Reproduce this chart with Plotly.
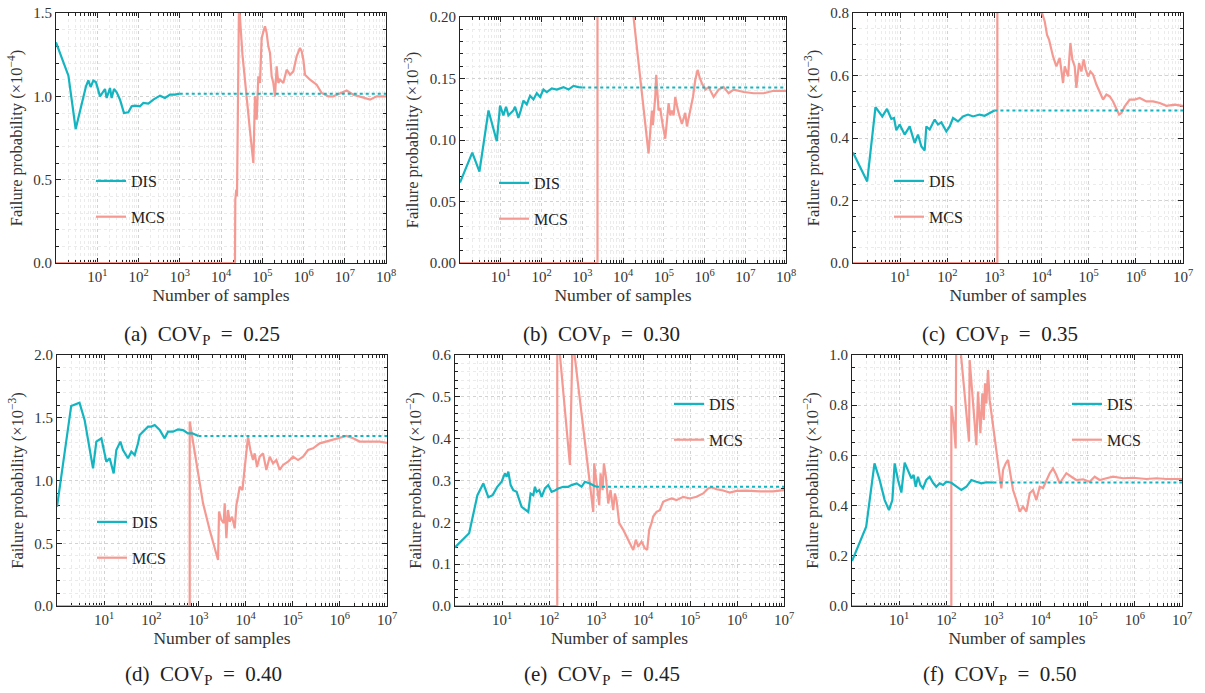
import plotly.graph_objects as go

# ---------------- data (log10 of number of samples, failure probability in scaled units) ----------------
# (a) COV_P = 0.25, units 1e-4
dis_a_logn = [0.000, 0.301, 0.477, 0.727, 0.784, 0.840, 0.905, 0.970, 1.067, 1.188, 1.228, 1.309, 1.349, 1.406,
              1.471, 1.552, 1.648, 1.754, 1.834, 1.915, 2.036, 2.117, 2.238, 2.360, 2.521, 2.642, 2.764, 2.885, 3.000]
dis_a_p = [1.324, 1.124, 0.804, 1.06, 1.096, 1.056, 1.094, 1.084, 1.00, 1.044, 0.99, 1.05, 0.99, 1.044,
           1.024, 0.98, 0.90, 0.904, 0.94, 0.944, 0.94, 0.96, 0.956, 0.98, 1.004, 0.99, 1.01, 1.01, 1.016]
mcs_a_logn = [0.000, 4.339, 4.347, 4.371, 4.388, 4.404, 4.420, 4.436, 4.52, 4.61, 4.70, 4.784, 4.824, 4.865, 4.905,
              4.945, 4.986, 5.042, 5.067, 5.107, 5.147, 5.188, 5.228, 5.269, 5.309, 5.349, 5.390, 5.430, 5.511,
              5.592, 5.673, 5.754, 5.834, 5.915, 5.956, 5.996, 6.036, 6.158, 6.319, 6.440, 6.602, 6.723, 6.885,
              7.046, 7.208, 7.450, 7.612, 7.774, 8.000]
mcs_a_p = [0.0, 0.0, 0.38, 0.44, 0.40, 0.78, 1.38, 1.56, 1.25, 1.0, 0.80, 0.60, 1.0, 0.86, 1.12,
           1.08, 1.35, 1.40, 1.42, 1.38, 1.30, 1.26, 1.12, 1.08, 1.00, 1.18, 1.08, 1.10, 1.08,
           1.16, 1.13, 1.15, 1.24, 1.29, 1.27, 1.22, 1.13, 1.10, 1.07, 1.02, 1.00, 1.00, 1.02,
           1.035, 1.01, 0.99, 0.98, 1.0, 1.0]

# (b) COV_P = 0.30, units 1e-3
dis_b_logn = [0.000, 0.301, 0.477, 0.699, 0.903, 0.983, 1.065, 1.130, 1.188, 1.310, 1.351, 1.433, 1.491, 1.556,
              1.638, 1.720, 1.802, 1.884, 1.966, 2.048, 2.129, 2.252, 2.375, 2.539, 2.662, 2.785, 2.907, 3.000]
dis_b_p = [0.0654, 0.0897, 0.0743, 0.124, 0.099, 0.128, 0.120, 0.127, 0.120, 0.124, 0.127, 0.118, 0.124, 0.132,
           0.129, 0.136, 0.133, 0.138, 0.135, 0.141, 0.139, 0.142, 0.141, 0.143, 0.141, 0.144, 0.143, 0.1427]
mcs_b_logn = [0.000, 3.374, 3.374, 4.259, 4.627, 4.668, 4.709, 4.734, 4.767, 4.791, 4.816, 4.848, 4.873, 4.914,
              4.955, 5.037, 5.078, 5.119, 5.160, 5.201, 5.242, 5.283, 5.324, 5.364, 5.446, 5.487, 5.528, 5.569,
              5.610, 5.651, 5.717, 5.774, 5.831, 5.880, 5.938, 6.020, 6.102, 6.224, 6.347, 6.470, 6.593, 6.716,
              6.962, 7.207, 7.453, 7.699, 8.000]
mcs_b_p = [0.0, 0.0, 0.43, 0.200, 0.089, 0.111, 0.124, 0.112, 0.125, 0.135, 0.153, 0.140, 0.124, 0.126,
           0.116, 0.101, 0.115, 0.130, 0.120, 0.124, 0.120, 0.135, 0.128, 0.122, 0.113, 0.118, 0.122, 0.111,
           0.118, 0.124, 0.135, 0.149, 0.157, 0.151, 0.146, 0.141, 0.143, 0.135, 0.141, 0.143, 0.138, 0.141,
           0.139, 0.138, 0.138, 0.140, 0.140]

# (c) COV_P = 0.35, units 1e-3
dis_c_logn = [0.000, 0.301, 0.477, 0.622, 0.721, 0.813, 0.870, 0.919, 0.990, 1.096, 1.202, 1.308, 1.379, 1.450,
              1.520, 1.556, 1.627, 1.733, 1.803, 1.874, 1.980, 2.051, 2.122, 2.228, 2.334, 2.440, 2.546, 2.687,
              2.793, 2.900, 3.000]
dis_c_p = [0.354, 0.261, 0.499, 0.469, 0.493, 0.461, 0.464, 0.425, 0.443, 0.411, 0.437, 0.384, 0.411, 0.373,
           0.360, 0.437, 0.427, 0.459, 0.443, 0.450, 0.421, 0.437, 0.464, 0.453, 0.469, 0.475, 0.469, 0.475,
           0.471, 0.480, 0.488]
mcs_c_logn = [0.000, 3.062, 3.062, 4.010, 4.067, 4.116, 4.158, 4.187, 4.243, 4.314, 4.385, 4.455, 4.491, 4.562,
              4.611, 4.653, 4.703, 4.738, 4.795, 4.844, 4.894, 4.936, 4.986, 5.035, 5.092, 5.163, 5.233, 5.304,
              5.375, 5.446, 5.516, 5.587, 5.644, 5.693, 5.764, 5.870, 5.976, 6.082, 6.223, 6.365, 6.506, 6.648,
              6.825, 7.000]
mcs_c_p = [0.0, 0.0, 0.87, 0.80, 0.773, 0.730, 0.715, 0.693, 0.661, 0.629, 0.656, 0.576, 0.629, 0.597,
           0.704, 0.651, 0.629, 0.560, 0.640, 0.613, 0.651, 0.619, 0.597, 0.613, 0.603, 0.571, 0.544, 0.523,
           0.539, 0.533, 0.517, 0.491, 0.475, 0.480, 0.501, 0.523, 0.523, 0.528, 0.517, 0.517, 0.512, 0.503,
           0.507, 0.503]

# (d) COV_P = 0.40, units 1e-3
dis_d_logn = [0.000, 0.301, 0.477, 0.587, 0.764, 0.835, 0.941, 1.047, 1.117, 1.202, 1.259, 1.344, 1.400, 1.506,
              1.577, 1.648, 1.719, 1.754, 1.860, 1.931, 2.001, 2.072, 2.178, 2.284, 2.355, 2.461, 2.567, 2.673,
              2.779, 2.871, 3.000]
dis_d_p = [0.790, 1.594, 1.620, 1.480, 1.097, 1.310, 1.336, 1.150, 1.177, 1.057, 1.243, 1.310, 1.243, 1.177,
           1.230, 1.203, 1.296, 1.362, 1.402, 1.429, 1.430, 1.442, 1.402, 1.336, 1.389, 1.389, 1.408, 1.402,
           1.376, 1.376, 1.355]
mcs_d_logn = [0.000, 2.815, 2.815, 2.956, 3.098, 3.239, 3.416, 3.437, 3.487, 3.536, 3.557, 3.593, 3.628, 3.663,
              3.713, 3.770, 3.805, 3.840, 3.876, 3.932, 3.982, 4.017, 4.052, 4.102, 4.158, 4.194, 4.243, 4.300,
              4.371, 4.441, 4.512, 4.583, 4.653, 4.724, 4.795, 4.901, 5.007, 5.113, 5.219, 5.325, 5.431, 5.573,
              5.714, 5.856, 5.997, 6.139, 6.280, 6.421, 6.634, 6.846, 7.000]
mcs_d_p = [0.0, 0.0, 1.47, 1.137, 0.818, 0.606, 0.367, 0.752, 0.685, 0.660, 0.818, 0.540, 0.765, 0.672,
           0.712, 0.619, 0.805, 0.871, 0.951, 0.924, 1.084, 1.190, 1.349, 1.243, 1.163, 1.216, 1.110, 1.190,
           1.216, 1.084, 1.190, 1.137, 1.163, 1.084, 1.124, 1.150, 1.190, 1.163, 1.190, 1.243, 1.256, 1.296,
           1.310, 1.323, 1.336, 1.355, 1.336, 1.310, 1.310, 1.310, 1.300]

# (e) COV_P = 0.45, units 1e-2
dis_e_logn = [0.000, 0.301, 0.477, 0.602, 0.709, 0.801, 0.900, 0.992, 1.063, 1.099, 1.134, 1.184, 1.240, 1.311,
              1.417, 1.510, 1.559, 1.609, 1.666, 1.701, 1.736, 1.793, 1.843, 1.914, 1.984, 2.055, 2.126, 2.197,
              2.303, 2.410, 2.480, 2.587, 2.693, 2.764, 2.870, 3.000]
dis_e_p = [0.140, 0.174, 0.265, 0.293, 0.260, 0.265, 0.285, 0.297, 0.317, 0.309, 0.321, 0.289, 0.277, 0.273,
           0.237, 0.229, 0.225, 0.269, 0.265, 0.285, 0.273, 0.277, 0.261, 0.281, 0.289, 0.273, 0.276, 0.281,
           0.285, 0.285, 0.289, 0.293, 0.285, 0.297, 0.293, 0.285]
mcs_e_logn = [0.000, 2.176, 2.176, 2.445, 2.502, 2.941, 2.962, 3.012, 3.069, 3.097, 3.140, 3.168, 3.211, 3.260,
              3.310, 3.366, 3.402, 3.437, 3.494, 3.579, 3.650, 3.721, 3.792, 3.848, 3.898, 3.969, 4.040, 4.089,
              4.132, 4.181, 4.217, 4.288, 4.359, 4.429, 4.500, 4.607, 4.713, 4.855, 4.996, 5.138, 5.280, 5.386,
              5.457, 5.563, 5.705, 5.847, 5.989, 6.201, 6.485, 6.768, 7.000]
mcs_e_p = [0.0, 0.0, 0.67, 0.337, 0.64, 0.225, 0.341, 0.293, 0.241, 0.317, 0.277, 0.341, 0.309, 0.245,
           0.277, 0.229, 0.269, 0.253, 0.198, 0.182, 0.166, 0.154, 0.134, 0.158, 0.142, 0.154, 0.138, 0.134,
           0.182, 0.198, 0.214, 0.225, 0.229, 0.249, 0.253, 0.257, 0.253, 0.261, 0.257, 0.261, 0.269, 0.281,
           0.284, 0.279, 0.276, 0.271, 0.275, 0.276, 0.274, 0.274, 0.277]

# (f) COV_P = 0.50, units 1e-2
dis_f_logn = [0.000, 0.301, 0.477, 0.587, 0.693, 0.785, 0.856, 0.905, 0.976, 1.047, 1.117, 1.188, 1.259, 1.308,
              1.351, 1.400, 1.450, 1.506, 1.577, 1.648, 1.719, 1.789, 1.860, 1.931, 2.001, 2.107, 2.214, 2.320,
              2.426, 2.532, 2.638, 2.744, 2.850, 3.000]
dis_f_p = [0.179, 0.316, 0.568, 0.502, 0.422, 0.382, 0.422, 0.568, 0.502, 0.452, 0.571, 0.542, 0.509, 0.522,
           0.475, 0.515, 0.482, 0.469, 0.502, 0.515, 0.491, 0.475, 0.489, 0.482, 0.495, 0.491, 0.475, 0.462,
           0.475, 0.502, 0.495, 0.489, 0.493, 0.492]
mcs_f_logn = [0.000, 2.107, 2.107, 2.157, 2.199, 2.214, 2.482, 2.496, 2.638, 2.673, 2.723, 2.765, 2.794, 2.822,
              2.850, 2.885, 2.921, 3.168, 3.204, 3.260, 3.310, 3.345, 3.416, 3.487, 3.557, 3.628, 3.699, 3.770,
              3.840, 3.911, 3.982, 4.052, 4.123, 4.194, 4.264, 4.335, 4.406, 4.477, 4.547, 4.653, 4.760, 4.901,
              5.042, 5.148, 5.255, 5.396, 5.537, 5.750, 5.962, 6.245, 6.457, 6.669, 7.000]
mcs_f_p = [0.0, 0.0, 0.797, 0.728, 0.628, 1.20, 0.655, 0.98, 0.641, 0.854, 0.688, 0.847, 0.741, 0.887,
           0.807, 0.940, 0.820, 0.469, 0.542, 0.568, 0.582, 0.542, 0.462, 0.422, 0.376, 0.396, 0.376, 0.449,
           0.462, 0.422, 0.475, 0.470, 0.502, 0.529, 0.548, 0.522, 0.489, 0.509, 0.529, 0.515, 0.502, 0.505,
           0.495, 0.515, 0.502, 0.509, 0.515, 0.509, 0.511, 0.506, 0.509, 0.506, 0.506]

panels = [
    ("a", "0.25", "−4", 8, 1.5, 0.5, 0.1, ".1f", dis_a_logn, dis_a_p, mcs_a_logn, mcs_a_p),
    ("b", "0.30", "−3", 8, 0.20, 0.05, 0.01, ".2f", dis_b_logn, dis_b_p, mcs_b_logn, mcs_b_p),
    ("c", "0.35", "−3", 7, 0.8, 0.2, 0.05, ".1f", dis_c_logn, dis_c_p, mcs_c_logn, mcs_c_p),
    ("d", "0.40", "−3", 7, 2.0, 0.5, 0.1, ".1f", dis_d_logn, dis_d_p, mcs_d_logn, mcs_d_p),
    ("e", "0.45", "−2", 7, 0.6, 0.1, 0.02, ".1f", dis_e_logn, dis_e_p, mcs_e_logn, mcs_e_p),
    ("f", "0.50", "−2", 7, 1.0, 0.2, 0.05, ".1f", dis_f_logn, dis_f_p, mcs_f_logn, mcs_f_p),
]

# ---------------- layout geometry (page pixels in the 1205 x 693 window) ----------------
W, H = 1205, 693
boxes = [(56, 386, 13, 263), (460, 786, 17, 263), (853, 1183, 13, 263),
         (57, 387, 355, 606), (455, 784, 355, 606), (852, 1182, 355, 606)]
legend_pos = [(91, 164), (494, 166), (889, 164), (92, 505), (669, 387), (1067, 387)]
caption_pos = [(202, 335), (601, 335), (1000, 335), (203, 675), (602, 675), (1000, 675)]


def px(x):
    return x / W


def py(y):
    return 1 - y / H


DIS_C = "#14b4c0"
MCS_C = "#f59a93"
FONT = "Liberation Serif, 'Times New Roman', 'DejaVu Serif', serif"
TXT = "#333333"

fig = go.Figure()
layout = dict(width=W, height=H, margin=dict(l=0, r=0, t=0, b=0),
              paper_bgcolor="white", plot_bgcolor="white",
              font=dict(family=FONT, size=15, color=TXT), annotations=[])

for i, (lab, cov, expo, xmax, ymax, ydt, ymdt, yfmt, dl, dp, ml, mp) in enumerate(panels):
    k = "" if i == 0 else str(i + 1)
    xa, ya = "x" + k, "y" + k
    lg = "legend" + k
    x0, x1, y0, y1 = boxes[i]
    dis_n = [10 ** v for v in dl]
    mcs_n = [10 ** v for v in ml]
    fig.add_trace(go.Scatter(x=mcs_n, y=mp, mode="lines", name="MCS", xaxis=xa, yaxis=ya,
                             line=dict(color=MCS_C, width=2.2), legend=lg, legendgroup="mcs" + k,
                             legendrank=2))
    fig.add_trace(go.Scatter(x=[dis_n[-1], 10 ** xmax], y=[dp[-1], dp[-1]], mode="lines",
                             xaxis=xa, yaxis=ya, showlegend=False,
                             line=dict(color=DIS_C, width=2, dash="dot")))
    fig.add_trace(go.Scatter(x=dis_n, y=dp, mode="lines", name="DIS", xaxis=xa, yaxis=ya,
                             line=dict(color=DIS_C, width=2.2), legend=lg, legendgroup="dis" + k,
                             legendrank=1))
    tickv = [10 ** e for e in range(1, xmax + 1)]
    tickt = ["10<sup>%d</sup>" % e for e in range(1, xmax + 1)]
    layout["xaxis" + k] = dict(
        type="log", range=[0, xmax], domain=[px(x0), px(x1)], anchor=ya, automargin=False,
        tickvals=tickv, ticktext=tickt, ticks="inside", ticklen=5, tickcolor="#222",
        ticklabeloverflow="allow",
        showline=True, linecolor="#222", linewidth=1, mirror="ticks", layer="below traces",
        showgrid=True, gridcolor="#d2d2d2", griddash="dot", gridwidth=1, zeroline=False,
        minor=dict(ticks="inside", ticklen=3, tickcolor="#222", dtick="D1", showgrid=True,
                   gridcolor="#ebebeb", griddash="dot", gridwidth=1),
        tickfont=dict(family=FONT, size=15, color=TXT),
        title=dict(text="Number of samples", font=dict(family=FONT, size=17.5, color=TXT), standoff=4),
    )
    layout["yaxis" + k] = dict(
        range=[0, ymax], domain=[py(y1), py(y0)], anchor=xa, automargin=False,
        dtick=ydt, tick0=0, tickformat=yfmt, ticks="inside", ticklen=5, tickcolor="#222",
        ticklabeloverflow="allow",
        showline=True, linecolor="#222", linewidth=1, mirror="ticks", layer="below traces",
        showgrid=True, gridcolor="#d2d2d2", griddash="dot", gridwidth=1, zeroline=False,
        minor=dict(ticks="inside", ticklen=3, tickcolor="#222", dtick=ymdt, showgrid=True,
                   gridcolor="#ebebeb", griddash="dot", gridwidth=1),
        tickfont=dict(family=FONT, size=15, color=TXT),
        title=dict(text="Failure probability (×10<sup>%s</sup>)" % expo,
                   font=dict(family=FONT, size=16.5, color=TXT), standoff=6),
    )
    lx, ly = legend_pos[i]
    layout[lg] = dict(x=px(lx), y=py(ly), xanchor="left", yanchor="top", xref="paper", yref="paper",
                      bgcolor="rgba(0,0,0,0)", borderwidth=0, font=dict(family=FONT, size=16, color="#222"),
                      tracegroupgap=12, itemwidth=30, traceorder="grouped")
    cx, cy = caption_pos[i]
    layout["annotations"].append(dict(
        text="(%s)&nbsp; COV<sub>P</sub>&nbsp; =&nbsp; %s" % (lab, cov), x=px(cx),
        y=py(cy), xref="paper", yref="paper", showarrow=False,
        font=dict(family=FONT, size=21, color="#222"), xanchor="center", yanchor="middle"))

fig.update_layout(**layout)
# remove the browser's default page margin so the figure fills the window exactly
fig.write_html("out.html", config={"displayModeBar": False},
               post_script="document.body.style.margin='0';document.body.style.overflow='hidden';")
